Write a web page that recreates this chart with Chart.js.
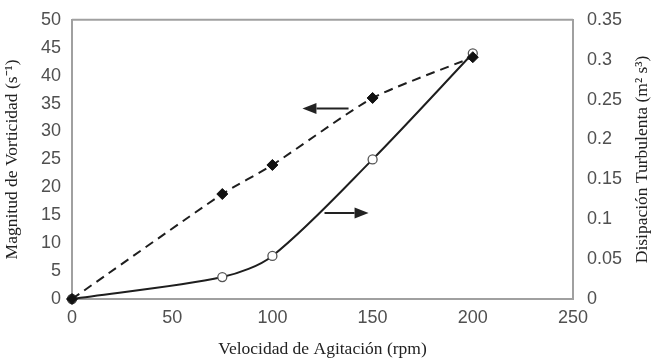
<!DOCTYPE html>
<html>
<head>
<meta charset="utf-8">
<script src="https://cdn.jsdelivr.net/npm/chart.js@4/dist/chart.umd.min.js"></script>
<style>
  html, body { margin: 0; padding: 0; background: #fff; }
  #wrap { width: 653px; height: 360px; }
</style>
</head>
<body>
<div id="wrap"><canvas id="c" width="653" height="360"></canvas></div>
<script>
// Agitation speed (rpm)
const speeds = [0, 75, 100, 150, 200];
// Vorticity magnitude (s^-1), left axis
const vorticity = [0, 18.8, 24, 36, 43.3];
// Turbulent dissipation (m^2 s^3), right axis
const dissipation = [0, 0.0275, 0.054, 0.175, 0.308];

const xTicks = [0, 50, 100, 150, 200, 250];
const leftTicks = [0, 5, 10, 15, 20, 25, 30, 35, 40, 45, 50];
const rightTicks = [0, 0.05, 0.1, 0.15, 0.2, 0.25, 0.3, 0.35];

const rightTitle = 'Disipación Turbulenta (m² s³)';

// Arrows pointing each curve to its axis: [x from, x to, y value on left axis]
const arrowLeft = [138, 115, 34.1];
const arrowRight = [126, 148, 15.4];

const axisGray = '#a0a0a0';
const tickColor = '#505050';
const tickFont = { family: 'Liberation Sans, Arial, sans-serif', size: 18 };
const titleFont = { family: 'Liberation Serif, Times New Roman, serif', size: 17.5 };

const frameAndArrows = {
  id: 'frameAndArrows',
  beforeDatasetsDraw(chart) {
    const { ctx, chartArea } = chart;
    // top frame line
    ctx.save();
    ctx.strokeStyle = axisGray;
    ctx.lineWidth = 2;
    ctx.beginPath();
    ctx.moveTo(chartArea.left, chartArea.top);
    ctx.lineTo(chartArea.right, chartArea.top);
    ctx.stroke();
    ctx.restore();
  },
  afterDatasetsDraw(chart) {
    const { ctx, chartArea, scales } = chart;
    ctx.save();
    function arrow(a) {
      const x0 = scales.x.getPixelForValue(a[0]);
      const x1 = scales.x.getPixelForValue(a[1]);
      const y = scales.y.getPixelForValue(a[2]);
      const dir = Math.sign(x1 - x0);
      const head = 14;
      ctx.strokeStyle = '#222';
      ctx.fillStyle = '#222';
      ctx.lineWidth = 2;
      ctx.beginPath();
      ctx.moveTo(x0, y);
      ctx.lineTo(x1 - dir * head, y);
      ctx.stroke();
      ctx.beginPath();
      ctx.moveTo(x1, y);
      ctx.lineTo(x1 - dir * head, y - 5.5);
      ctx.lineTo(x1 - dir * head, y + 5.5);
      ctx.closePath();
      ctx.fill();
    }
    arrow(arrowLeft);
    arrow(arrowRight);

    // right axis title, reading bottom to top
    ctx.fillStyle = '#222';
    ctx.font = `${titleFont.size}px ${titleFont.family}`;
    ctx.textAlign = 'center';
    ctx.textBaseline = 'middle';
    ctx.translate(642, (chartArea.top + chartArea.bottom) / 2);
    ctx.rotate(-Math.PI / 2);
    ctx.fillText(rightTitle, 0, 0);
    ctx.restore();
  }
};

new Chart(document.getElementById('c'), {
  type: 'line',
  data: {
    labels: speeds,
    datasets: [
      {
        label: 'Disipación Turbulenta',
        data: speeds.map((s, i) => ({ x: s, y: dissipation[i] })),
        yAxisID: 'y1',
        borderColor: '#1e1e1e',
        borderWidth: 2,
        tension: 0.3,
        clip: false,
        pointStyle: 'circle',
        pointRadius: 4.5,
        pointBorderWidth: 1.3,
        pointBorderColor: '#555',
        pointBackgroundColor: '#fff',
        fill: false,
        order: 2
      },
      {
        label: 'Magnitud de Vorticidad',
        data: speeds.map((s, i) => ({ x: s, y: vorticity[i] })),
        yAxisID: 'y',
        borderColor: '#1e1e1e',
        borderWidth: 2,
        borderDash: [9, 6],
        tension: 0.2,
        clip: false,
        pointStyle: 'rectRot',
        pointRadius: 5.5,
        pointBorderWidth: 1,
        pointBorderColor: '#111',
        pointBackgroundColor: '#111',
        fill: false,
        order: 1
      }
    ]
  },
  options: {
    responsive: false,
    animation: false,
    layout: { padding: { top: 19, left: 0, right: 0, bottom: 0 } },
    plugins: { legend: { display: false }, tooltip: { enabled: false } },
    scales: {
      x: {
        type: 'linear',
        min: 0, max: 250,
        afterBuildTicks(s) { s.ticks = xTicks.map(v => ({ value: v })); },
        afterFit(s) { s.height = 61; },
        grid: { display: false, drawTicks: true, tickLength: 5, color: axisGray },
        border: { color: axisGray, width: 2 },
        ticks: { font: tickFont, color: tickColor, padding: 3, maxRotation: 0 },
        title: { display: true, text: 'Velocidad de Agitación (rpm)', font: titleFont, color: '#222', padding: { top: 6, bottom: 0 } }
      },
      y: {
        position: 'left',
        min: 0, max: 50,
        afterBuildTicks(s) { s.ticks = leftTicks.map(v => ({ value: v })); },
        afterFit(s) { s.width = 72; },
        grid: { display: false, drawTicks: true, tickLength: 5, color: axisGray },
        border: { color: axisGray, width: 2 },
        ticks: { font: tickFont, color: tickColor, padding: 6 },
        title: { display: true, text: 'Magnitud de Vorticidad (s⁻¹)', font: titleFont, color: '#222', padding: { top: 2, bottom: 2 } }
      },
      y1: {
        position: 'right',
        min: 0, max: 0.35,
        afterBuildTicks(s) { s.ticks = rightTicks.map(v => ({ value: v })); },
        afterFit(s) { s.width = 80; },
        grid: { display: false, drawTicks: true, tickLength: 5, color: axisGray },
        border: { color: axisGray, width: 2 },
        ticks: { font: tickFont, color: tickColor, padding: 9, callback: v => String(v) },
        title: { display: false }
      }
    }
  },
  plugins: [frameAndArrows]
});
</script>
</body>
</html>
